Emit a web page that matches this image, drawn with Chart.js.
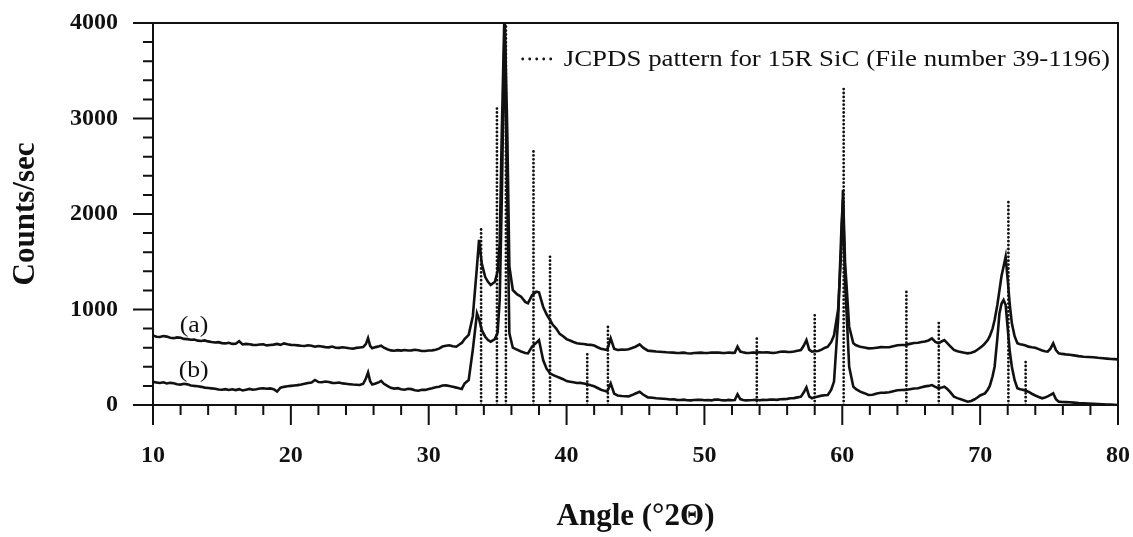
<!DOCTYPE html>
<html>
<head>
<meta charset="utf-8">
<script src="https://cdn.jsdelivr.net/npm/chart.js@4/dist/chart.umd.min.js"></script>
<style>
  html, body { margin: 0; padding: 0; background: #fff; overflow: hidden; }
  #wrap { width: 1133px; height: 537px; }
</style>
</head>
<body>
<div id="wrap"><canvas id="xrd" width="1133" height="537"></canvas></div>
<script>
// Diffraction angle (°2Θ) shared by both scans
const angles = [
  10.00, 10.25, 10.50, 10.75, 11.00, 11.25, 11.50, 11.75, 12.00, 12.25,
  12.50, 12.75, 13.00, 13.25, 13.50, 13.75, 14.00, 14.25, 14.50, 14.75,
  15.00, 15.25, 15.50, 15.75, 16.00, 16.25, 16.50, 16.75, 17.00, 17.25,
  17.50, 17.75, 18.00, 18.25, 18.50, 18.75, 19.00, 19.25, 19.50, 19.75,
  20.00, 20.25, 20.50, 20.75, 21.00, 21.25, 21.50, 21.75, 22.00, 22.25,
  22.50, 22.75, 23.00, 23.25, 23.50, 23.75, 24.00, 24.25, 24.50, 24.75,
  25.00, 25.25, 25.45, 25.60, 25.75, 25.90, 26.15, 26.40, 26.55, 26.75,
  27.00, 27.25, 27.50, 27.75, 28.00, 28.25, 28.50, 28.75, 29.00, 29.25,
  29.50, 29.75, 30.00, 30.25, 30.50, 30.75, 31.00, 31.25, 31.50, 31.75,
  32.00, 32.25, 32.40, 32.60, 32.90, 33.20, 33.50, 33.65, 33.85, 34.10,
  34.30, 34.50, 34.80, 35.00, 35.15, 35.30, 35.50, 35.70, 35.85, 36.10,
  36.40, 36.70, 37.00, 37.20, 37.50, 37.80, 38.00, 38.30, 38.55, 38.80,
  39.00, 39.25, 39.50, 39.75, 40.00, 40.25, 40.50, 40.75, 41.00, 41.25,
  41.50, 41.75, 42.00, 42.25, 42.50, 42.75, 42.95, 43.20, 43.45, 43.70,
  44.00, 44.25, 44.50, 44.75, 45.00, 45.30, 45.55, 45.90, 46.25, 46.50,
  46.75, 47.00, 47.25, 47.50, 47.75, 48.00, 48.25, 48.50, 48.75, 49.00,
  49.25, 49.50, 49.75, 50.00, 50.25, 50.50, 50.75, 51.00, 51.25, 51.50,
  51.75, 52.00, 52.20, 52.40, 52.60, 52.80, 53.00, 53.25, 53.50, 53.75,
  54.00, 54.25, 54.50, 54.75, 55.00, 55.25, 55.50, 55.75, 56.00, 56.25,
  56.50, 56.75, 57.00, 57.20, 57.40, 57.60, 57.80, 58.00, 58.25, 58.50,
  58.75, 58.95, 59.20, 59.40, 59.70, 59.95, 60.05, 60.20, 60.50, 60.80,
  61.00, 61.30, 61.60, 61.90, 62.20, 62.50, 62.80, 63.10, 63.40, 63.70,
  64.00, 64.30, 64.60, 64.90, 65.20, 65.50, 65.75, 66.00, 66.25, 66.50,
  66.75, 67.00, 67.20, 67.40, 67.60, 67.80, 68.10, 68.35, 68.60, 68.85,
  69.10, 69.35, 69.60, 69.80, 70.00, 70.20, 70.35, 70.55, 70.70, 70.90,
  71.05, 71.25, 71.40, 71.55, 71.70, 71.85, 72.00, 72.15, 72.30, 72.50,
  72.70, 72.90, 73.10, 73.30, 73.50, 73.75, 74.00, 74.25, 74.50, 74.70,
  74.90, 75.10, 75.30, 75.50, 75.70, 75.95, 76.20, 76.50, 76.80, 77.15,
  77.50, 77.85, 78.20, 78.55, 78.90, 79.20, 79.50, 79.75, 80.00
];

// Scan (a), counts/sec
const countsA = [
  728, 715, 712, 722, 716, 705, 700, 708, 704, 692,
  690, 684, 686, 674, 670, 676, 666, 660, 655, 658,
  648, 645, 652, 640, 642, 668, 634, 640, 636, 630,
  628, 634, 636, 624, 628, 632, 640, 630, 645, 636,
  630, 628, 624, 620, 618, 626, 620, 610, 618, 612,
  606, 604, 612, 600, 598, 604, 600, 594, 590, 598,
  602, 606, 640, 700, 620, 595, 606, 615, 622, 600,
  584, 572, 568, 574, 570, 576, 570, 572, 578, 574,
  566, 565, 570, 572, 578, 590, 612, 620, 625, 616,
  610, 636, 650, 690, 735, 930, 1450, 1730, 1480, 1340,
  1290, 1256, 1290, 1400, 1700, 2850, 4150, 2850, 1450, 1204,
  1160, 1134, 1080, 1065, 1150, 1186, 1180, 1029, 950, 890,
  840, 800, 745, 720, 690, 676, 660, 646, 642, 638,
  632, 630, 622, 605, 590, 582, 576, 698, 590, 576,
  580, 578, 583, 596, 610, 635, 600, 569, 564, 560,
  558, 555, 552, 550, 548, 545, 546, 548, 542, 540,
  544, 546, 548, 544, 545, 550, 548, 550, 546, 545,
  550, 546, 548, 611, 560, 552, 546, 545, 550, 548,
  552, 550, 552, 548, 545, 550, 558, 560, 556, 555,
  560, 568, 576, 620, 680, 580, 558, 562, 565, 580,
  600, 611, 660, 730, 1000, 1700, 2250, 1500, 820, 646,
  625, 610, 602, 593, 594, 600, 606, 605, 604, 615,
  626, 628, 630, 640, 650, 652, 660, 665, 676, 698,
  660, 646, 665, 680, 650, 620, 576, 562, 555, 548,
  541, 548, 560, 578, 600, 622, 646, 680, 720, 800,
  890, 1050, 1200, 1350, 1450, 1553, 1309, 1050, 855, 720,
  646, 636, 630, 622, 611, 605, 600, 585, 570, 562,
  558, 590, 646, 575, 541, 535, 530, 526, 520, 512,
  506, 503, 500, 494, 490, 486, 482, 480, 478
];

// Scan (b), counts/sec
const countsB = [
  242, 236, 230, 238, 225, 232, 228, 218, 214, 222,
  216, 205, 200, 196, 190, 182, 178, 174, 170, 162,
  160, 166, 158, 164, 156, 166, 152, 160, 168, 160,
  165, 172, 176, 170, 174, 165, 140, 182, 190, 196,
  200, 204, 208, 214, 222, 230, 236, 262, 240, 238,
  246, 240, 232, 230, 236, 226, 222, 218, 214, 212,
  210, 222, 280, 340, 250, 215, 225, 240, 252, 222,
  200, 180, 172, 176, 164, 160, 170, 166, 155, 150,
  160, 158, 168, 176, 185, 192, 204, 205, 198, 190,
  182, 172, 168, 225, 262, 580, 960, 900, 785, 715,
  680, 663, 690, 760, 1100, 2150, 3950, 2150, 750, 600,
  580, 560, 545, 541, 611, 650, 680, 471, 380, 332,
  315, 300, 285, 270, 250, 244, 238, 230, 232, 226,
  218, 206, 196, 178, 160, 148, 140, 227, 120, 100,
  95, 92, 90, 104, 120, 139, 110, 80, 76, 70,
  68, 65, 62, 58, 60, 54, 52, 56, 50, 48,
  52, 54, 55, 50, 52, 48, 56, 58, 50, 48,
  54, 50, 52, 112, 62, 52, 48, 50, 52, 55,
  50, 54, 52, 56, 58, 54, 60, 62, 64, 70,
  72, 80, 87, 130, 185, 90, 70, 80, 90, 98,
  102, 105, 160, 245, 900, 1900, 2150, 1300, 400, 192,
  165, 140, 124, 105, 108, 120, 128, 130, 134, 145,
  154, 157, 158, 165, 172, 175, 185, 195, 200, 209,
  190, 175, 182, 192, 170, 140, 87, 72, 60, 48,
  35, 42, 60, 78, 100, 112, 122, 160, 200, 300,
  401, 700, 960, 1060, 1100, 1050, 800, 560, 401, 260,
  175, 165, 160, 150, 139, 118, 100, 84, 70, 78,
  90, 105, 122, 60, 35, 32, 30, 28, 25, 20,
  17, 14, 12, 10, 8, 6, 5, 3, 0
];

// JCPDS 39-1196 (15R SiC) reference lines: position and drawn height
const jcpdsAngles  = [33.8, 34.95, 35.6, 37.6, 38.8, 41.5, 43.0, 53.8, 58.0, 60.1, 64.65, 67.0, 72.05, 73.3];
const jcpdsHeights = [1850, 3110, 4000, 2670, 1590, 565, 820, 722, 977, 3327, 1222, 883, 2147, 453];

// Labelled tick values
const xTickLabels = [10, 20, 30, 40, 50, 60, 70, 80];
const yTickLabels = [0, 1000, 2000, 3000, 4000];

const seriesNames = ['(a)', '(b)'];
const jcpdsName = 'JCPDS pattern for 15R SiC (File number 39-1196)';

const serif = '"Liberation Serif", "Times New Roman", serif';
const ink = '#111';

const scanA = angles.map((a, i) => ({ x: a, y: countsA[i] }));
const scanB = angles.map((a, i) => ({ x: a, y: countsB[i] }));
const sticks = jcpdsAngles.flatMap((a, i) => [
  { x: a, y: 0 }, { x: a, y: jcpdsHeights[i] }, { x: a, y: null }
]);

// Box, tick marks, legend and series tags
const decorations = {
  id: 'decorations',
  afterDraw(chart, args, opts) {
    const { ctx, chartArea: { left, right, top, bottom }, scales: { x, y } } = chart;
    ctx.save();
    ctx.strokeStyle = ink;
    ctx.lineWidth = 2;
    ctx.lineCap = 'butt';
    ctx.beginPath();
    ctx.moveTo(left, top); ctx.lineTo(right, top); ctx.lineTo(right, bottom);
    y.ticks.forEach(t => {
      const py = y.getPixelForValue(t.value);
      const len = yTickLabels.includes(t.value) ? 20 : 10;
      ctx.moveTo(left - len, py); ctx.lineTo(left, py);
    });
    x.ticks.forEach(t => {
      const px = x.getPixelForValue(t.value);
      const len = xTickLabels.includes(t.value) ? 20 : 10;
      ctx.moveTo(px, bottom); ctx.lineTo(px, bottom + len);
    });
    ctx.stroke();

    // legend for the reference lines, top right inside the frame
    const ds = chart.data.datasets[2];
    ctx.fillStyle = ink;
    ctx.font = '24px ' + serif;
    ctx.textBaseline = 'alphabetic';
    ctx.textAlign = 'left';
    const stretch = 1.12;
    const w = ctx.measureText(ds.label).width * stretch;
    const textRight = right - 8;
    const textLeft = textRight - w;
    const baseY = top + 43;
    ctx.save();
    ctx.translate(textLeft, baseY);
    ctx.scale(stretch, 1);
    ctx.fillText(ds.label, 0, 0);
    ctx.restore();

    ctx.beginPath();
    ctx.setLineDash([0, 7]);
    ctx.lineCap = 'round';
    ctx.lineWidth = ds.borderWidth;
    const dotEnd = textLeft - 13;
    ctx.moveTo(dotEnd - 28, baseY - 7);
    ctx.lineTo(dotEnd + 0.5, baseY - 7);
    ctx.stroke();
    ctx.setLineDash([]);

    // series tags next to the start of each scan
    ctx.font = '23px ' + serif;
    ctx.textAlign = 'center';
    ctx.textBaseline = 'middle';
    opts.tags.forEach((tg, i) => {
      const px = x.getPixelForValue(tg[0]);
      const py = y.getPixelForValue(tg[1]);
      ctx.save();
      ctx.translate(px, py);
      ctx.scale(stretch, 1);
      ctx.fillText(seriesNames[i], 0, 0);
      ctx.restore();
    });
    ctx.restore();
  }
};

// Keep the plot frame fixed: no extra room reserved for overhanging tick labels
function noOverhang(s) {
  s.paddingTop = 0; s.paddingBottom = 0; s.paddingLeft = 0; s.paddingRight = 0;
}

const tickFont = { family: serif, size: 24, weight: 'bold' };

new Chart(document.getElementById('xrd'), {
  type: 'line',
  data: {
    datasets: [
      { label: seriesNames[0], data: scanA, borderColor: ink, borderWidth: 2.6, pointRadius: 0, tension: 0, fill: false },
      { label: seriesNames[1], data: scanB, borderColor: ink, borderWidth: 2.6, pointRadius: 0, tension: 0, fill: false },
      { label: jcpdsName, data: sticks, borderColor: ink, borderWidth: 2.8, borderDash: [0, 3.9],
        borderCapStyle: 'round', pointRadius: 0, tension: 0, fill: false, spanGaps: false }
    ]
  },
  options: {
    responsive: false,
    animation: false,
    devicePixelRatio: 1,
    layout: { padding: { top: 23, right: 15, left: 0, bottom: 0 } },
    plugins: {
      legend: { display: false },
      tooltip: { enabled: false },
      decorations: { tags: [[12.97, 827], [12.95, 356]] }
    },
    scales: {
      x: {
        type: 'linear', min: 10, max: 80,
        grid: { display: false, drawTicks: false },
        border: { display: true, color: ink, width: 2 },
        ticks: {
          stepSize: 2, autoSkip: false, maxRotation: 0, padding: 36, color: ink, font: tickFont,
          callback: v => xTickLabels.includes(v) ? String(v) : ''
        },
        title: { display: true, text: 'Angle (°2Θ)', color: ink,
          font: { family: serif, size: 31, weight: 'bold' }, padding: { top: 0, bottom: 1 } },
        afterFit(s) { s.height = 132; noOverhang(s); }
      },
      y: {
        type: 'linear', min: 0, max: 4000,
        grid: { display: false, drawTicks: false },
        border: { display: true, color: ink, width: 2 },
        ticks: {
          stepSize: 200, autoSkip: false, padding: 35, color: ink, font: tickFont,
          callback: v => yTickLabels.includes(v) ? String(v) : ''
        },
        title: { display: true, text: 'Counts/sec', color: ink,
          font: { family: serif, size: 31, weight: 'bold' }, padding: { top: 7, bottom: 0 } },
        afterFit(s) { s.width = 153; noOverhang(s); }
      }
    }
  },
  plugins: [decorations]
});
</script>
</body>
</html>
